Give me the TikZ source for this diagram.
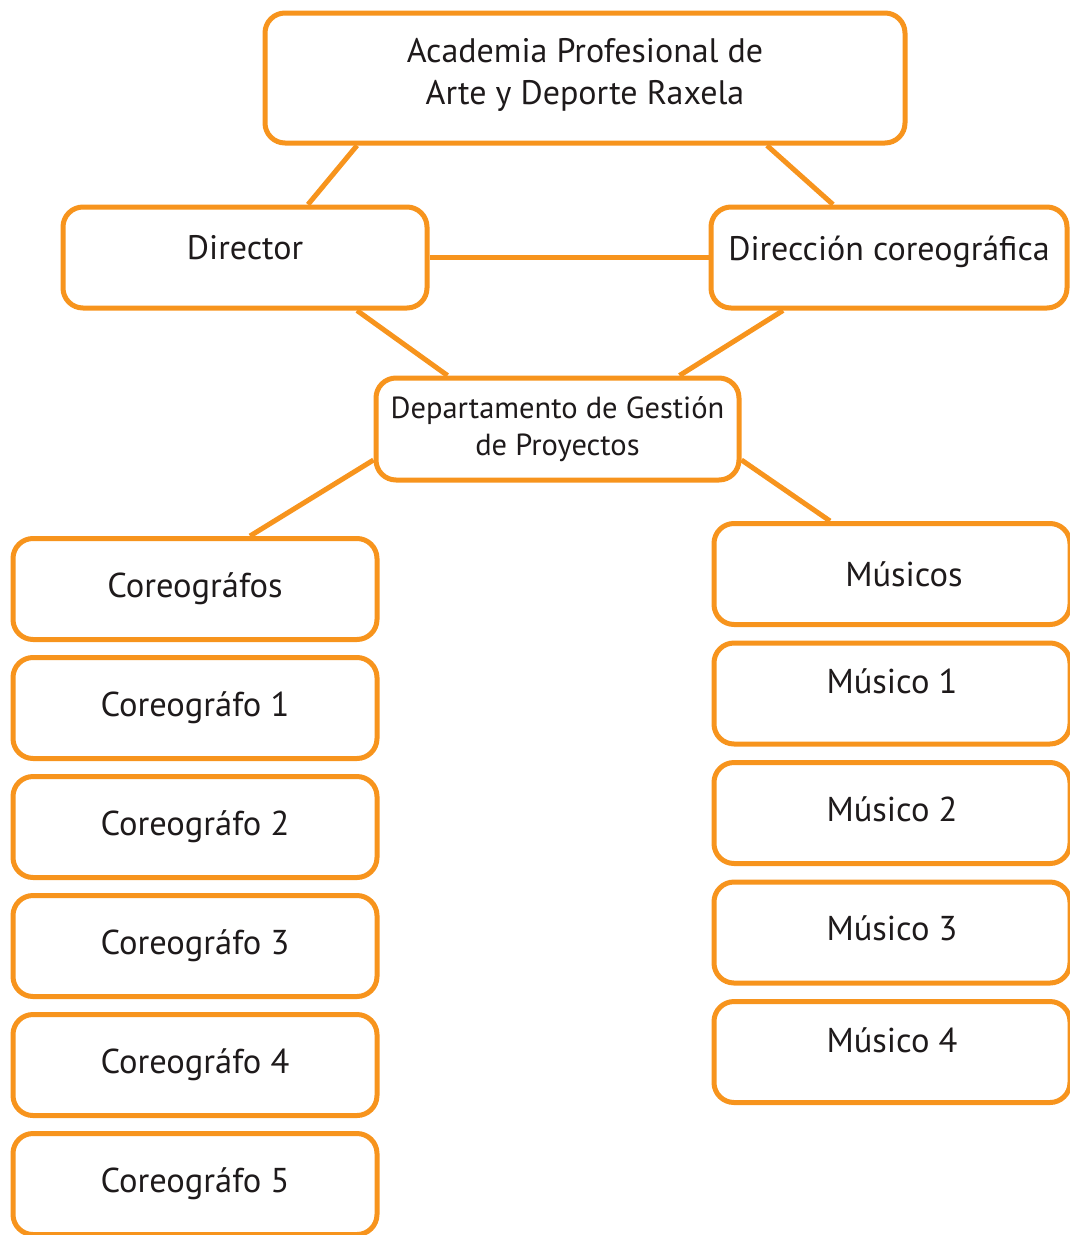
\documentclass[tikz,border=0pt]{standalone}
\usepackage{fontspec}
\setmainfont{PT Sans}
\usetikzlibrary{positioning,calc}
\definecolor{raxOrange}{RGB}{247,148,29}
\definecolor{raxText}{RGB}{30,26,27}
\tikzset{
	box/.style={draw=raxOrange,line width=5pt,rounded corners=20pt,fill=white,
		text=raxText,align=center,inner sep=0pt,minimum height=101pt},
	link/.style={draw=raxOrange,line width=5pt},
}

\begin{document}
\begin{tikzpicture}[x=1pt,y=-1pt]
	\useasboundingbox (0,0) rectangle (1070,1235);
	\node[box,minimum width=640pt,minimum height=130pt,text depth=14pt,font=\fontsize{34}{42}\selectfont] (acad) at (585,78) {Academia Profesional de\\Arte y Deporte Raxela};
	\node[box,minimum width=364pt,text depth=20pt,font=\fontsize{34}{40}\selectfont] (director) at (245,257.5) {Director};
	\node[box,minimum width=356pt,text depth=18pt,font=\fontsize{34}{40}\selectfont] (direccion) at (889,257.5) {Dirección coreográfica};
	\node[box,minimum width=363pt,minimum height=102pt,font=\fontsize{30.5}{37}\selectfont] (dept) at (557.5,429) {Departamento de Gestión\\de Proyectos};

	\node[box,minimum width=364pt,font=\fontsize{34.5}{40}\selectfont] (cor) at (195,589) {Coreográfos};
	\foreach \i in {1,...,5}
		\node[box,minimum width=364pt,font=\fontsize{34.5}{40}\selectfont] (cor\i) at (195,589+119*\i) {Coreográfo \i};

	\node[box,minimum width=356pt,font=\fontsize{34.5}{40}\selectfont] (mus) at (892,574) {\hspace*{24pt}Músicos};
	\foreach \i/\musdepth in {1/24pt,2/8pt,3/8pt,4/24pt}
		\node[box,minimum width=356pt,text depth=\musdepth,font=\fontsize{34.5}{40}\selectfont] (mus\i) at (892,574+119.5*\i) {Músico \i};

	\draw[link] ([xshift=-228pt]acad.south) -- ([xshift=63pt]director.north);
	\draw[link] ([xshift=182pt]acad.south) -- ([xshift=-56pt]direccion.north);
	\draw[link] (director.east) -- (direccion.west);
	\draw[link] ([xshift=112pt]director.south) -- ([xshift=-110pt]dept.north);
	\draw[link] ([xshift=-106pt]direccion.south) -- ([xshift=122pt]dept.north);
	\draw[link] ([yshift=-31pt]dept.west) -- ([xshift=55pt]cor.north);
	\draw[link] ([yshift=-31pt]dept.east) -- ([xshift=-62pt]mus.north);
\end{tikzpicture}
\end{document}
